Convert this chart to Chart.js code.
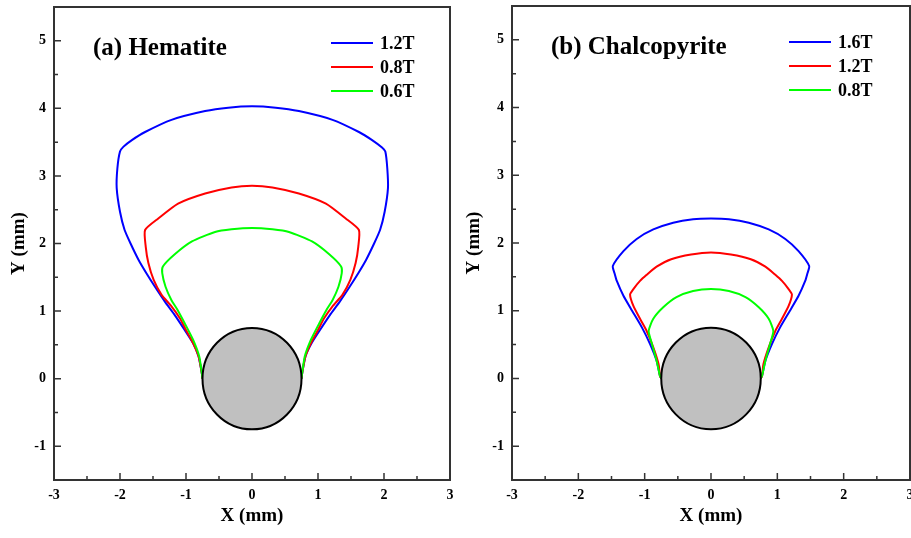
<!DOCTYPE html>
<html>
<head>
<meta charset="utf-8">
<script src="https://cdn.jsdelivr.net/npm/chart.js@4.4.0/dist/chart.umd.min.js"></script>
<style>
  html, body { margin: 0; padding: 0; background: #fff; }
  body { width: 911px; height: 538px; position: relative; overflow: hidden; }
  .panel { position: absolute; top: 0; height: 538px; }
  #panelA { left: 0; width: 455px; }
  #panelB { left: 455px; width: 456px; }
</style>
</head>
<body>
<div class="panel" id="panelA"><canvas id="chartA" width="455" height="538"></canvas></div>
<div class="panel" id="panelB"><canvas id="chartB" width="456" height="538"></canvas></div>
<script>
// axis ticks (both panels)
const xTicks = [-3, -2, -1, 0, 1, 2, 3];
const yTicks = [-1, 0, 1, 2, 3, 4, 5];
const wireRadius = 0.75;   // wire cross-section, mm

// (a) Hematite
const hemLabels = ['1.2T', '0.8T', '0.6T'];
const hem12X = [-0.75,-0.76,-0.81,-0.89,-1.02,-1.17,-1.32,-1.47,-1.60,-1.72,-1.84,-1.93,-2.00,-2.05,-2.04,-2.00,-1.95,-1.82,-1.62,-1.22,-0.71,-0.36,0,0.36,0.71,1.22,1.62,1.82,1.97,2.02,2.05,2.06,2.01,1.94,1.85,1.73,1.61,1.48,1.33,1.18,1.03,0.90,0.81,0.76,0.75];
const hem12Y = [0,0.08,0.33,0.52,0.72,0.94,1.14,1.36,1.56,1.76,2.00,2.20,2.47,2.82,3.11,3.36,3.43,3.53,3.65,3.83,3.96,4.01,4.03,4.01,3.96,3.83,3.65,3.53,3.42,3.36,3.11,2.82,2.47,2.20,2.00,1.76,1.56,1.36,1.14,0.94,0.72,0.52,0.33,0.08,0];
const hem08X = [-0.75,-0.76,-0.81,-0.89,-1.00,-1.09,-1.22,-1.37,-1.49,-1.57,-1.61,-1.62,-1.42,-1.12,-0.71,-0.31,0,0.31,0.71,1.12,1.42,1.62,1.61,1.57,1.49,1.37,1.22,1.09,1.00,0.89,0.81,0.76,0.75];
const hem08Y = [0,0.08,0.33,0.52,0.72,0.89,1.07,1.24,1.46,1.71,1.95,2.20,2.37,2.59,2.74,2.83,2.855,2.83,2.74,2.59,2.37,2.20,1.95,1.71,1.46,1.24,1.07,0.89,0.72,0.52,0.33,0.08,0];
const hem06X = [-0.75,-0.76,-0.80,-0.89,-1.02,-1.13,-1.22,-1.31,-1.36,-1.35,-1.17,-0.91,-0.56,-0.31,0,0.31,0.56,0.91,1.17,1.35,1.36,1.31,1.22,1.13,1.02,0.89,0.80,0.76,0.75];
const hem06Y = [0,0.08,0.33,0.57,0.82,1.02,1.16,1.36,1.56,1.66,1.84,2.03,2.17,2.21,2.23,2.21,2.17,2.03,1.84,1.66,1.56,1.36,1.16,1.02,0.82,0.57,0.33,0.08,0];

// (b) Chalcopyrite
const chLabels = ['1.6T', '1.2T', '0.8T'];
const ch16X = [-0.75,-0.77,-0.82,-0.92,-1.04,-1.19,-1.32,-1.42,-1.45,-1.48,-1.32,-1.12,-0.87,-0.57,-0.27,0,0.27,0.57,0.87,1.12,1.32,1.48,1.45,1.42,1.32,1.19,1.04,0.92,0.82,0.77,0.75];
const ch16Y = [0,0.04,0.26,0.51,0.75,1.00,1.22,1.44,1.54,1.66,1.88,2.06,2.20,2.30,2.35,2.36,2.35,2.30,2.20,2.06,1.88,1.66,1.54,1.44,1.22,1.00,0.75,0.51,0.26,0.04,0];
const ch12X = [-0.75,-0.77,-0.79,-0.87,-0.97,-1.07,-1.17,-1.22,-1.17,-1.07,-0.97,-0.82,-0.60,-0.30,0,0.30,0.60,0.82,0.97,1.07,1.17,1.22,1.17,1.07,0.97,0.87,0.79,0.77,0.75];
const ch12Y = [0,0.04,0.21,0.46,0.70,0.88,1.07,1.24,1.32,1.44,1.53,1.65,1.76,1.83,1.86,1.83,1.76,1.65,1.53,1.44,1.32,1.24,1.07,0.88,0.70,0.46,0.21,0.04,0];
const ch08X = [-0.75,-0.77,-0.82,-0.89,-0.94,-0.87,-0.72,-0.52,-0.27,0,0.27,0.52,0.72,0.87,0.94,0.89,0.82,0.77,0.75];
const ch08Y = [0,0.04,0.26,0.51,0.70,0.88,1.05,1.20,1.29,1.32,1.29,1.20,1.05,0.88,0.70,0.51,0.26,0.04,0];

const colors = ['#0000ff', '#ff0000', '#00ff00'];
const FONT = "'Liberation Serif', 'Times New Roman', serif";

function toPoints(xs, ys) {
  return xs.map((x, i) => ({ x: x, y: ys[i] }));
}

// box, inward ticks, wire circle, panel title, legend
const framePlugin = {
  id: 'frame',
  afterDatasetsDraw(chart, args, opts) {
    const { ctx, chartArea: a, scales: { x, y } } = chart;
    ctx.save();

    // wire
    const cx = x.getPixelForValue(0), cy = y.getPixelForValue(0);
    const rx = Math.abs(x.getPixelForValue(wireRadius) - cx);
    const ry = Math.abs(y.getPixelForValue(wireRadius) - cy);
    ctx.beginPath();
    ctx.ellipse(cx, cy, rx, ry, 0, 0, Math.PI * 2);
    ctx.fillStyle = '#c0c0c0';
    ctx.fill();
    ctx.lineWidth = 2;
    ctx.strokeStyle = '#000';
    ctx.stroke();

    // frame
    ctx.strokeStyle = '#333';
    ctx.lineWidth = 2;
    ctx.strokeRect(a.left, a.top, a.right - a.left, a.bottom - a.top);

    // ticks, pointing into the plot
    ctx.lineWidth = 1.5;
    ctx.beginPath();
    xTicks.forEach((v, i) => {
      let px = x.getPixelForValue(v);
      ctx.moveTo(px, a.bottom); ctx.lineTo(px, a.bottom - 7);
      if (i < xTicks.length - 1) {
        px = x.getPixelForValue((v + xTicks[i + 1]) / 2);
        ctx.moveTo(px, a.bottom); ctx.lineTo(px, a.bottom - 4);
      }
    });
    yTicks.forEach((v, i) => {
      let py = y.getPixelForValue(v);
      ctx.moveTo(a.left, py); ctx.lineTo(a.left + 7, py);
      const half = [v - 0.5];
      if (i === yTicks.length - 1) half.push(v + 0.5);
      half.forEach(h => {
        if (h <= y.min || h >= y.max) return;
        py = y.getPixelForValue(h);
        ctx.moveTo(a.left, py); ctx.lineTo(a.left + 4, py);
      });
    });
    ctx.stroke();

    // panel title
    ctx.fillStyle = '#000';
    ctx.textBaseline = 'alphabetic';
    ctx.textAlign = 'left';
    ctx.font = `bold 25px ${FONT}`;
    ctx.fillText(opts.title, a.left + 39, a.top + 48);

    // legend
    ctx.font = `bold 18px ${FONT}`;
    ctx.textBaseline = 'middle';
    opts.labels.forEach((lab, i) => {
      const ly = a.top + 36 + i * 24;
      const lx = a.left + 277;
      ctx.strokeStyle = colors[i];
      ctx.lineWidth = 2;
      ctx.beginPath();
      ctx.moveTo(lx, ly); ctx.lineTo(lx + 42, ly);
      ctx.stroke();
      ctx.fillStyle = '#000';
      ctx.fillText(lab, lx + 49, ly + 1);
    });
    ctx.restore();
  }
};

// stop Chart.js from reserving room for edge labels
function noEdgePad(s) {
  s.paddingTop = 0; s.paddingBottom = 0; s.paddingLeft = 0; s.paddingRight = 0;
}

function makeChart(id, title, labels, series, leftW, padTop, padRight) {
  const datasets = series.map((s, i) => ({
    label: labels[i],
    data: s,
    showLine: true,
    borderColor: colors[i],
    borderWidth: 2,
    pointRadius: 0,
    tension: 0.2,
    fill: false,
    order: series.length - i
  }));
  return new Chart(document.getElementById(id), {
    type: 'scatter',
    data: { datasets },
    options: {
      responsive: false,
      animation: false,
      layout: { padding: { left: 0, top: padTop, right: padRight, bottom: 0 } },
      plugins: {
        legend: { display: false },
        tooltip: { enabled: false },
        frame: { title: title, labels: labels }
      },
      scales: {
        x: {
          type: 'linear', min: -3, max: 3,
          afterBuildTicks: s => { s.ticks = xTicks.map(v => ({ value: v })); },
          afterFit: s => { s.height = 58; noEdgePad(s); },
          grid: { display: false, drawTicks: false },
          border: { display: false },
          ticks: { color: '#000', padding: 7, maxRotation: 0, font: { family: FONT, size: 14, weight: 'bold' }, callback: v => String(v) },
          title: { display: true, text: 'X (mm)', color: '#000', padding: { top: 0, bottom: 11 }, font: { family: FONT, size: 19, weight: 'bold' } }
        },
        y: {
          type: 'linear', min: -1.5, max: 5.5,
          afterBuildTicks: s => { s.ticks = yTicks.map(v => ({ value: v })); },
          afterFit: s => { s.width = leftW; noEdgePad(s); },
          grid: { display: false, drawTicks: false },
          border: { display: false },
          ticks: { color: '#000', padding: 8, font: { family: FONT, size: 14, weight: 'bold' }, callback: v => String(v) },
          title: { display: true, text: 'Y (mm)', color: '#000', padding: { top: 8, bottom: 0 }, font: { family: FONT, size: 19, weight: 'bold' } }
        }
      }
    },
    plugins: [framePlugin]
  });
}

makeChart('chartA', '(a) Hematite', hemLabels,
  [toPoints(hem12X, hem12Y), toPoints(hem08X, hem08Y), toPoints(hem06X, hem06Y)],
  54, 7, 5);

makeChart('chartB', '(b) Chalcopyrite', chLabels,
  [toPoints(ch16X, ch16Y), toPoints(ch12X, ch12Y), toPoints(ch08X, ch08Y)],
  57, 6, 1);
</script>
</body>
</html>
